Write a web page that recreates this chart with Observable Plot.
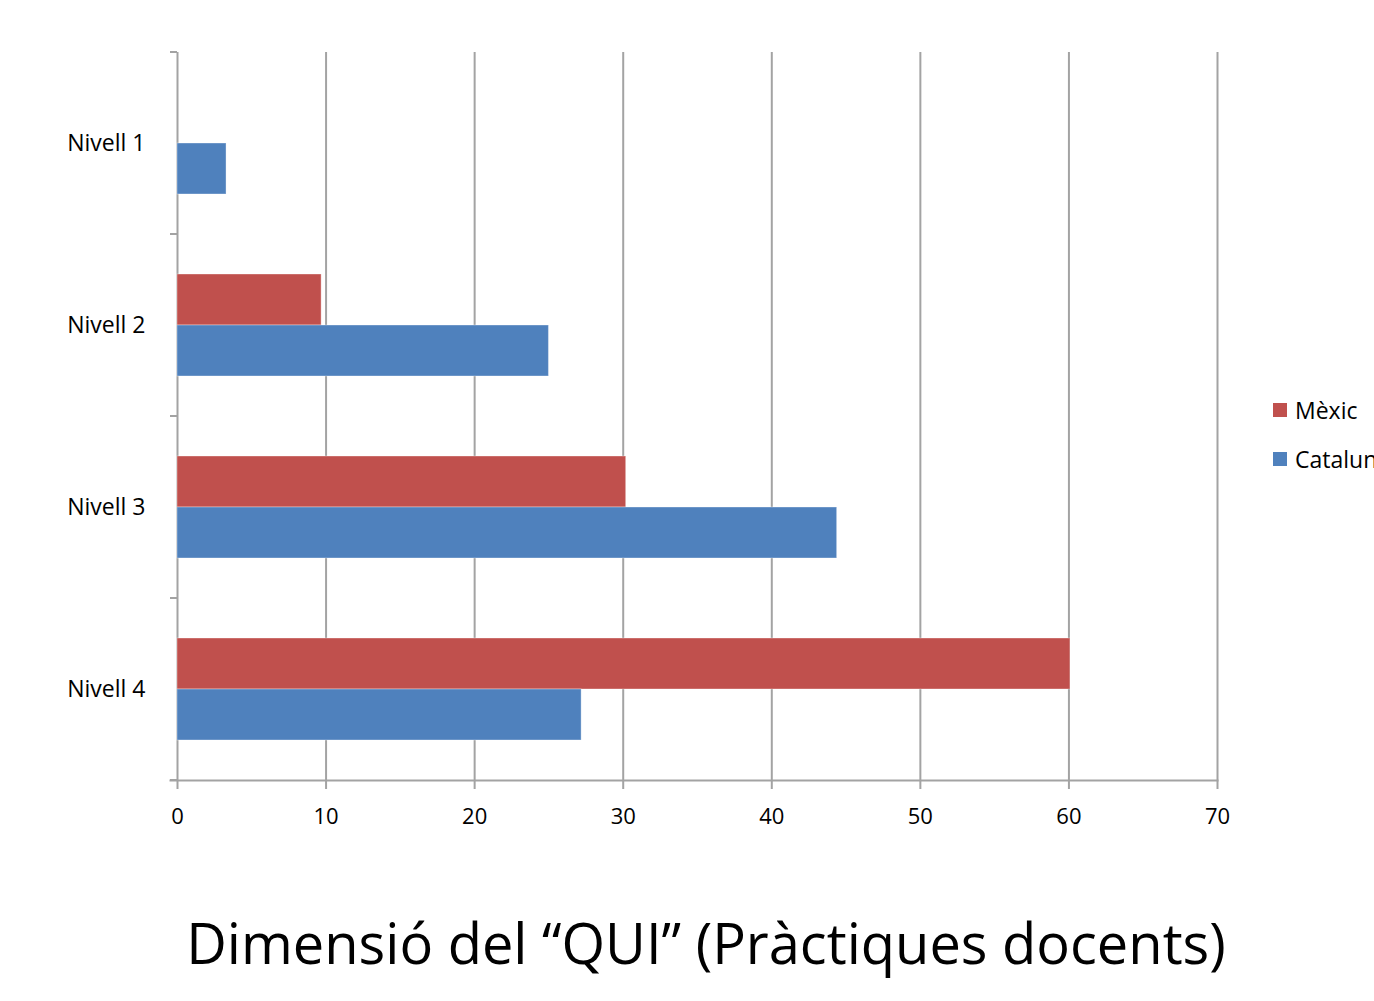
<!DOCTYPE html>
<html>
<head>
<meta charset="utf-8">
<script src="https://cdn.jsdelivr.net/npm/d3@7"></script>
<script src="https://cdn.jsdelivr.net/npm/@observablehq/plot@0.6"></script>
<style>
  html, body { margin: 0; padding: 0; background: #fff; overflow: hidden; }
  body { width: 1374px; height: 1001px; position: relative; font-family: "Open Sans", sans-serif; color: #000; }
  #chart { position: absolute; left: 0; top: 0; }
  #legend { position: absolute; left: 1273px; top: 394px; font-size: 23px; white-space: nowrap; }
  #legend .item { display: flex; align-items: center; height: 31px; margin-bottom: 18px; }
  #legend .sw { width: 14px; height: 14px; margin-right: 8px; }
  #title { position: absolute; left: 0; width: 1412px; top: 904px; text-align: center; font-size: 56px; line-height: 76px; }
</style>
</head>
<body>
<div id="chart"></div>
<div id="legend"></div>
<div id="title">Dimensió del “QUI” (Pràctiques docents)</div>
<script>
// ---- data ----
const levels = ["Nivell 1", "Nivell 2", "Nivell 3", "Nivell 4"];
const series = ["Mèxic", "Catalunya"];
const mexic = [0, 9.7, 30.2, 60.1];
const catalunya = [3.3, 25, 44.4, 27.2];
const xTicks = [0, 10, 20, 30, 40, 50, 60, 70];
const colors = ["#C0504D", "#4F81BD"];

const rows = [];
levels.forEach((lv, i) => {
  rows.push({level: lv, series: "Mèxic", value: mexic[i]});
  rows.push({level: lv, series: "Catalunya", value: catalunya[i]});
});

const gridColor = "#a3a3a3";

// short tick marks on the left axis at band boundaries
function boundaryTicks(index, scales) {
  const x0 = scales.x(0);
  const [r0, r1] = scales.y.range();
  const g = d3.create("svg:g").attr("stroke", gridColor).attr("stroke-width", 2);
  for (const yy of [r0, r1]) {
    g.append("line").attr("x1", x0 - 7).attr("x2", x0).attr("y1", yy).attr("y2", yy);
  }
  return g.node();
}

const chart = Plot.plot({
  width: 1374,
  height: 850,
  marginLeft: 177,
  marginRight: 157,
  marginTop: 50,
  marginBottom: 69,
  style: {fontFamily: "Open Sans, sans-serif", fontSize: "22px", color: "#000", background: "transparent"},
  x: {domain: [0, 70], ticks: xTicks},
  y: {domain: series, paddingInner: 0, paddingOuter: 0.757, axis: null},
  fy: {domain: levels, padding: 0, label: null, axis: null},
  color: {domain: series, range: colors},
  marks: [
    Plot.ruleX(xTicks, {stroke: gridColor, strokeWidth: 2}),
    boundaryTicks,
    Plot.frame({anchor: "bottom", facetAnchor: "bottom", stroke: gridColor, strokeWidth: 2, insetLeft: -7}),
    Plot.barX(rows, {y: "series", fy: "level", x: "value", fill: "series", stroke: "#ffffff", strokeOpacity: 0.35, strokeWidth: 1}),
    Plot.axisX({ticks: xTicks, tickSize: 9, tickPadding: 19, stroke: gridColor, strokeWidth: 2, label: null, fontSize: 22, tickFormat: d3.format("d")}),
    Plot.axisFy({anchor: "left", tickSize: 0, tickPadding: 32, label: null, fontSize: 23})
  ]
});
document.getElementById("chart").appendChild(chart);

// legend
const legend = document.getElementById("legend");
series.forEach((s, i) => {
  const item = document.createElement("div");
  item.className = "item";
  const sw = document.createElement("span");
  sw.className = "sw";
  sw.style.background = colors[i];
  const t = document.createElement("span");
  t.textContent = s;
  item.appendChild(sw);
  item.appendChild(t);
  legend.appendChild(item);
});
</script>
</body>
</html>
